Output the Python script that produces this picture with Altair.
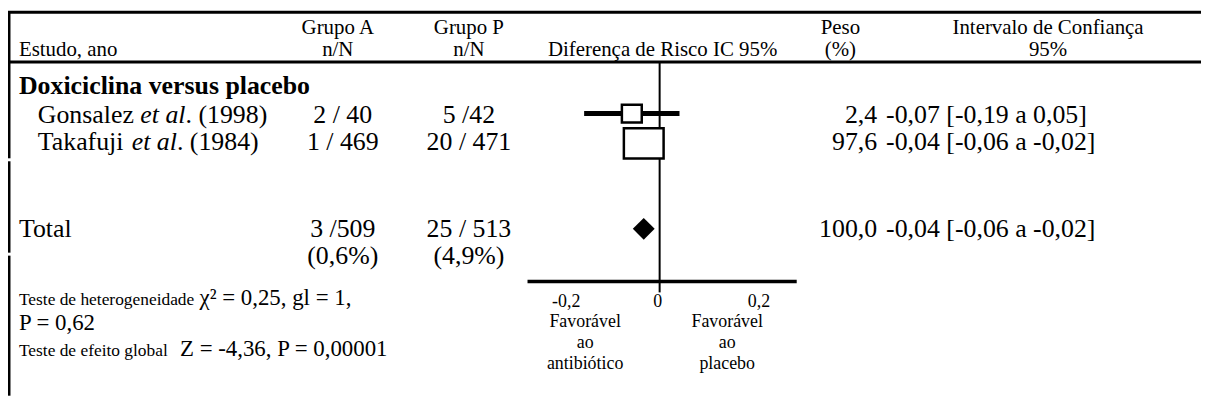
import altair as alt
import pandas as pd

# ---------------- data ----------------
study_names = ["Gonsalez ", "Takafuji "]
study_etal = ["et al", "et al"]
study_years = [". (1998)", ". (1984)"]
group_a_counts = ["2 / 40", "1 / 469"]
group_p_counts = ["5 /42", "20 / 471"]
weights_pct = ["2,4", "97,6"]
ci_labels = ["-0,07 [-0,19 a 0,05]", "-0,04 [-0,06 a -0,02]"]
rd_estimate = [-0.07, -0.04]
rd_lower = [-0.19, -0.06]
rd_upper = [0.05, -0.02]

total_label = "Total"
total_group_a = "3 /509"
total_group_p = "25 / 513"
total_group_a_pct = "(0,6%)"
total_group_p_pct = "(4,9%)"
total_weight = "100,0"
total_ci_label = "-0,04 [-0,06 a -0,02]"
total_estimate = [-0.04]
total_lower = [-0.06]
total_upper = [-0.02]

comparison_title = "Doxiciclina versus placebo"
header_top = ["Grupo A", "Grupo P", "Peso", "Intervalo de Confiança"]
header_bottom = ["Estudo, ano", "n/N", "n/N", "Diferença de Risco IC 95%", "(%)", "95%"]
het_label = ["Teste de heterogeneidade", "χ² = 0,25, gl = 1,", "P = 0,62"]
global_label = ["Teste de efeito global", "Z = -4,36, P = 0,00001"]
axis_tick_values = [-0.2, 0.0, 0.2]
axis_tick_labels = ["-0,2", "0", "0,2"]
favours_left = ["Favorável", "ao", "antibiótico"]
favours_right = ["Favorável", "ao", "placebo"]

# ---------------- layout / style ----------------
FONT = "Liberation Serif"
W, H = 1201, 389
ZERO_PX, PPU = 656.0, 400.0
X0 = -ZERO_PX / PPU
X1 = (W - ZERO_PX) / PPU
xs = alt.Scale(domain=[X0, X1], nice=False, zero=False)

# Times metrics (Liberation Serif is metric compatible) for inline text runs
REG = {" ": 250, "(": 333, ")": 333, ".": 250, ",": 250, "/": 278, "G": 722, "T": 611,
       "o": 500, "n": 500, "s": 389, "a": 444, "l": 278, "e": 444, "z": 444, "k": 500,
       "f": 333, "u": 500, "j": 278, "i": 278, "d": 500, "h": 500, "t": 278, "r": 333,
       "g": 500, "b": 500}
ITA = {"e": 444, "t": 278, " ": 250, "a": 500, "l": 278}


def tw(s, size, table=REG):
    return sum(table.get(c, 500) for c in s) * size / 1000.0


def txt(s, x, y, size, align="left", bold=False, italic=False, baseline="alphabetic"):
    return alt.Chart(pd.DataFrame({"t": [s]})).mark_text(
        align=align, baseline=baseline, font=FONT, fontSize=size,
        fontWeight="bold" if bold else "normal",
        fontStyle="italic" if italic else "normal", color="black",
    ).encode(x=alt.value(x), y=alt.value(y), text="t:N")


def hrule(x1, x2, y, w):
    return alt.Chart(pd.DataFrame({"k": [0]})).mark_rule(color="black", strokeWidth=w).encode(
        x=alt.value(x1), x2=alt.value(x2), y=alt.value(y))


def vrule(x, y1, y2, w):
    return alt.Chart(pd.DataFrame({"k": [0]})).mark_rule(color="black", strokeWidth=w).encode(
        x=alt.value(x), y=alt.value(y1), y2=alt.value(y2))


layers = []

# frame lines
layers.append(hrule(0, W, 3, 3))
layers.append(hrule(0, W, 53, 3))
layers.append(vrule(1, 2, 150, 3))
layers.append(vrule(1, 153, 245, 3))
layers.append(vrule(1, 248, H, 3))

HS = 21
layers += [
    txt(header_top[0], 332, 25, HS, "center"),
    txt(header_top[1], 464, 25, HS, "center"),
    txt(header_top[2], 838, 25, HS, "center"),
    txt(header_top[3], 1047, 25, HS, "center"),
    txt(header_bottom[0], 11, 47, HS, "left"),
    txt(header_bottom[1], 332, 47, HS, "center"),
    txt(header_bottom[2], 464, 47, HS, "center"),
    txt(header_bottom[3], 659, 47, HS, "center"),
    txt(header_bottom[4], 838, 47, HS, "center"),
    txt(header_bottom[5], 1047, 47, HS, "center"),
]

BS = 26
layers.append(txt(comparison_title, 11, 85, BS, "left", bold=True))

row_y = [114, 142]
for i in range(2):
    y = row_y[i]
    x = 30
    layers.append(txt(study_names[i], x, y, BS))
    x += tw(study_names[i], BS)
    layers.append(txt(study_etal[i], x, y, BS, italic=True))
    x += tw(study_etal[i], BS, ITA)
    layers.append(txt(study_years[i], x, y, BS))
    layers.append(txt(group_a_counts[i], 337, y, BS, "center"))
    layers.append(txt(group_p_counts[i], 464, y, BS, "center"))
    layers.append(txt(weights_pct[i], 875, y, BS, "right"))
    layers.append(txt(ci_labels[i], 884, y, BS, "left"))

layers += [
    txt(total_label, 11, 229, BS),
    txt(total_group_a, 337, 229, BS, "center"),
    txt(total_group_p, 464, 229, BS, "center"),
    txt(total_weight, 875, 229, BS, "right"),
    txt(total_ci_label, 884, 229, BS, "left"),
    txt(total_group_a_pct, 337, 256, BS, "center"),
    txt(total_group_p_pct, 464, 256, BS, "center"),
]

SS, LS = 17.5, 23
layers.append(txt(het_label[0], 11, 298, SS))
layers.append(txt(het_label[1], 11 + tw(het_label[0], SS) + 4, 298, LS))
layers.append(txt(het_label[2], 11, 323, LS))
layers.append(txt(global_label[0], 11, 349, SS))
layers.append(txt(global_label[1], 11 + tw(global_label[0], SS) + 11, 349, LS))

# ---------------- forest plot ----------------
forest_df = pd.DataFrame({"est": rd_estimate, "lo": rd_lower, "hi": rd_upper})
total_df = pd.DataFrame({"est": total_estimate, "lo": total_lower, "hi": total_upper})

# null line at zero
layers.append(alt.Chart(pd.DataFrame({"v": [0.0]})).mark_rule(color="black", strokeWidth=2).encode(
    x=alt.X("v:Q", scale=xs, axis=None), y=alt.value(54), y2=alt.value(285)))

box_shapes = ["M-1,-0.9L1,-0.9L1,0.9L-1,0.9Z", "M-1,-0.76L1,-0.76L1,0.76L-1,0.76Z"]
box_sizes = [400, 1600]
forest_y = [105, 135]
for i in range(2):
    d = forest_df.iloc[[i]]
    layers.append(alt.Chart(d).mark_rule(color="black", strokeWidth=5).encode(
        x=alt.X("lo:Q", scale=xs, axis=None), x2="hi:Q", y=alt.value(forest_y[i])))
    layers.append(alt.Chart(d).mark_point(
        shape=box_shapes[i], size=box_sizes[i], filled=True, fill="white",
        stroke="black", strokeWidth=2.5, opacity=1).encode(
        x=alt.X("est:Q", scale=xs, axis=None), y=alt.value(forest_y[i])))

layers.append(alt.Chart(total_df).mark_point(
    shape="diamond", size=484, filled=True, color="black", opacity=1).encode(
    x=alt.X("est:Q", scale=xs, axis=None), y=alt.value(221)))

# axis line and labels
layers.append(hrule(523, 794, 274, 3.5))
tick_dx = [-14, -2, 20]
for v, lab, dx in zip(axis_tick_values, axis_tick_labels, tick_dx):
    layers.append(alt.Chart(pd.DataFrame({"v": [v], "lab": [lab]})).mark_text(
        font=FONT, fontSize=18, align="center", baseline="alphabetic", dx=dx, color="black").encode(
        x=alt.X("v:Q", scale=xs, axis=None), y=alt.value(300), text="lab:N"))

fav_y = [320, 341, 362]
for j in range(3):
    layers.append(txt(favours_left[j], 581, fav_y[j], 18, "center"))
    layers.append(txt(favours_right[j], 724, fav_y[j], 18, "center"))

chart = alt.layer(*layers).properties(
    width=W, height=H, padding=0, autosize="none", background="white"
).configure_view(stroke=None)

chart.save("out.html", embed_options={"renderer": "svg", "actions": False})
